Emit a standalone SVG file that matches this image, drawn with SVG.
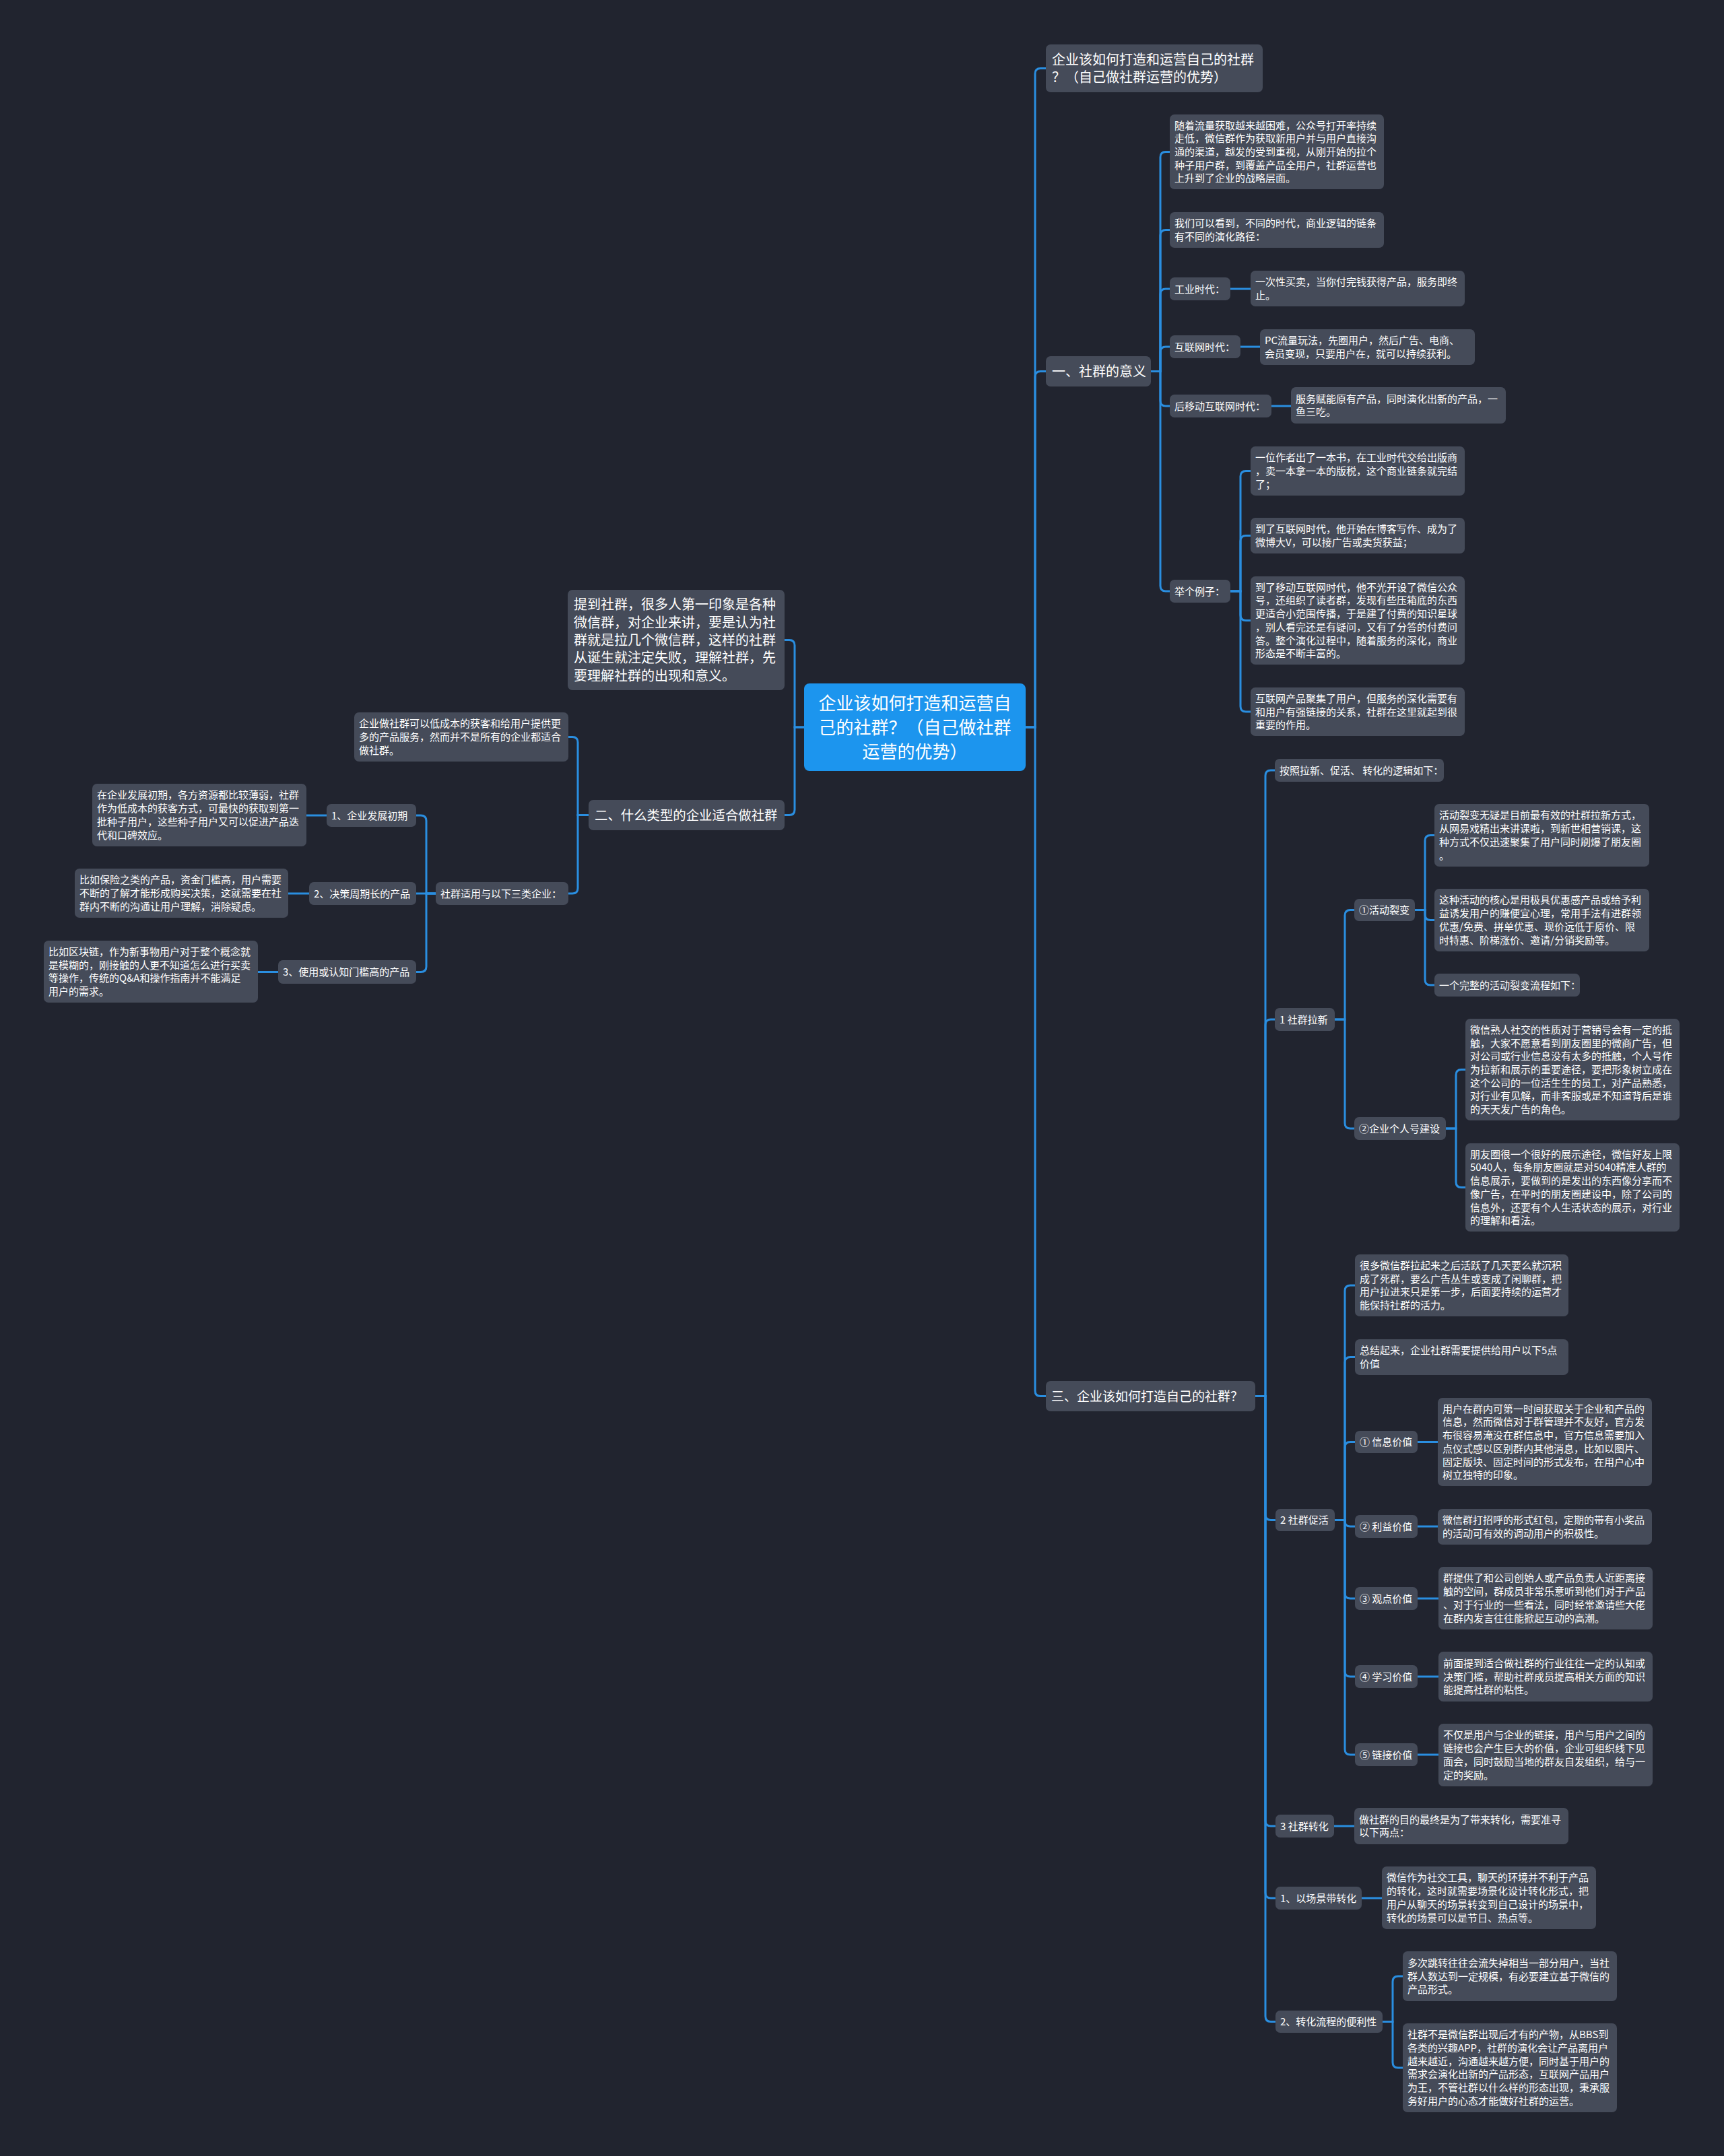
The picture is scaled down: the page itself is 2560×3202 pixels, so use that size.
<svg xmlns="http://www.w3.org/2000/svg" width="2560" height="3202" viewBox="0 0 2560 3202">
<style>
.bg{fill:#21242f}
.n{fill:#454b59}
.r{fill:#1c95ee}
.c{fill:none;stroke:#2a8ee0;stroke-width:3;stroke-linecap:round}
text{font-family:"Noto Sans CJK SC","Microsoft YaHei",sans-serif;fill:#ffffff}
.s{font-size:15px}
.m{font-size:20px}
.b{font-size:26px}
</style>
<rect class="bg" x="0" y="0" width="2560" height="3202"/>
<g id="connectors">
<path class="c" d="M1523 1080 H1537 V109.5 Q1537 101.5 1545 101.5 H1553"/>
<path class="c" d="M1523 1080 H1537 V559.5 Q1537 551.5 1545 551.5 H1553"/>
<path class="c" d="M1523 1080 H1537 V2065.5 Q1537 2073.5 1545 2073.5 H1553"/>
<path class="c" d="M1194 1080 H1180 V958.5 Q1180 950.5 1172 950.5 H1165"/>
<path class="c" d="M1194 1080 H1180 V1202.5 Q1180 1210.5 1172 1210.5 H1165"/>
<path class="c" d="M874 1210.5 H858 V1102.5 Q858 1094.5 850 1094.5 H844"/>
<path class="c" d="M874 1210.5 H858 V1319 Q858 1327 850 1327 H844"/>
<path class="c" d="M647 1327 H633 V1219 Q633 1211 625 1211 H618"/>
<path class="c" d="M647 1327 H618"/>
<path class="c" d="M647 1327 H633 V1435.5 Q633 1443.5 625 1443.5 H618"/>
<path class="c" d="M485 1211 H455"/>
<path class="c" d="M459 1327 H428"/>
<path class="c" d="M413 1443.5 H383"/>
<path class="c" d="M1709 551.5 H1723 V233.5 Q1723 225.5 1731 225.5 H1737"/>
<path class="c" d="M1709 551.5 H1723 V349.5 Q1723 341.5 1731 341.5 H1737"/>
<path class="c" d="M1709 551.5 H1723 V437 Q1723 429 1731 429 H1737"/>
<path class="c" d="M1709 551.5 H1723 V523 Q1723 515 1731 515 H1737"/>
<path class="c" d="M1709 551.5 H1723 V595 Q1723 603 1731 603 H1737"/>
<path class="c" d="M1709 551.5 H1723 V870 Q1723 878 1731 878 H1737"/>
<path class="c" d="M1827 429 H1857"/>
<path class="c" d="M1842 515 H1871"/>
<path class="c" d="M1888 603 H1917"/>
<path class="c" d="M1827 878 H1842 V707.5 Q1842 699.5 1850 699.5 H1857"/>
<path class="c" d="M1827 878 H1842 V803.5 Q1842 795.5 1850 795.5 H1857"/>
<path class="c" d="M1827 878 H1842 V913.5 Q1842 921.5 1850 921.5 H1857"/>
<path class="c" d="M1827 878 H1842 V1049 Q1842 1057 1850 1057 H1857"/>
<path class="c" d="M1864 2073.5 H1879 V1152 Q1879 1144 1887 1144 H1893"/>
<path class="c" d="M1864 2073.5 H1879 V1522 Q1879 1514 1887 1514 H1893"/>
<path class="c" d="M1864 2073.5 H1879 V2249.5 Q1879 2257.5 1887 2257.5 H1893"/>
<path class="c" d="M1864 2073.5 H1879 V2704 Q1879 2712 1887 2712 H1893"/>
<path class="c" d="M1864 2073.5 H1879 V2811 Q1879 2819 1887 2819 H1893"/>
<path class="c" d="M1864 2073.5 H1879 V2994.5 Q1879 3002.5 1887 3002.5 H1893"/>
<path class="c" d="M1982 1514 H1997 V1359.5 Q1997 1351.5 2005 1351.5 H2011"/>
<path class="c" d="M1982 1514 H1997 V1668 Q1997 1676 2005 1676 H2011"/>
<path class="c" d="M2101 1351.5 H2116 V1248.5 Q2116 1240.5 2124 1240.5 H2130"/>
<path class="c" d="M2101 1351.5 H2116 V1358.5 Q2116 1366.5 2124 1366.5 H2130"/>
<path class="c" d="M2101 1351.5 H2116 V1455 Q2116 1463 2124 1463 H2130"/>
<path class="c" d="M2147 1676 H2162 V1596.5 Q2162 1588.5 2170 1588.5 H2176"/>
<path class="c" d="M2147 1676 H2162 V1755.5 Q2162 1763.5 2170 1763.5 H2176"/>
<path class="c" d="M1982 2257.5 H1997 V1917 Q1997 1909 2005 1909 H2012"/>
<path class="c" d="M1982 2257.5 H1997 V2023.5 Q1997 2015.5 2005 2015.5 H2012"/>
<path class="c" d="M1982 2257.5 H1997 V2149.5 Q1997 2141.5 2005 2141.5 H2012"/>
<path class="c" d="M1982 2257.5 H1997 V2259 Q1997 2267 2005 2267 H2012"/>
<path class="c" d="M1982 2257.5 H1997 V2366 Q1997 2374 2005 2374 H2012"/>
<path class="c" d="M1982 2257.5 H1997 V2482 Q1997 2490 2005 2490 H2012"/>
<path class="c" d="M1982 2257.5 H1997 V2598 Q1997 2606 2005 2606 H2012"/>
<path class="c" d="M2105 2141.5 H2135"/>
<path class="c" d="M2105 2267 H2135"/>
<path class="c" d="M2105 2374 H2136"/>
<path class="c" d="M2105 2490 H2136"/>
<path class="c" d="M2105 2606 H2136"/>
<path class="c" d="M1981 2712 H2011"/>
<path class="c" d="M2022 2819 H2052"/>
<path class="c" d="M2053 3002.5 H2068 V2943 Q2068 2935 2076 2935 H2083"/>
<path class="c" d="M2053 3002.5 H2068 V3063 Q2068 3071 2076 3071 H2083"/>
</g>

<g id="root">
<rect class="r" x="1194" y="1015" width="329" height="130" rx="8"/>
<text class="b" text-anchor="middle" x="1358.5" y="1053.6"><tspan x="1358.5">企业该如何打造和运营自</tspan><tspan x="1358.5" dy="36">己的社群？（自己做社群</tspan><tspan x="1358.5" dy="36">运营的优势）</tspan></text>
</g>

<g id="n_intro">
<rect class="n" x="843" y="876" width="322" height="149" rx="7"/>
<text class="m" x="852" y="905.1"><tspan x="852">提到社群，很多人第一印象是各种</tspan><tspan x="852" dy="26.4">微信群，对企业来讲，要是认为社</tspan><tspan x="852" dy="26.4">群就是拉几个微信群，这样的社群</tspan><tspan x="852" dy="26.4">从诞生就注定失败，理解社群，先</tspan><tspan x="852" dy="26.4">要理解社群的出现和意义。</tspan></text>
</g>

<g id="n_2">
<rect class="n" x="874" y="1188" width="291" height="45" rx="7"/>
<text class="m" x="883" y="1217.9" style="font-size:19.4px">二、什么类型的企业适合做社群</text>
</g>

<g id="n_2a">
<rect class="n" x="526" y="1058" width="318" height="73" rx="7"/>
<text class="s" x="533" y="1080.3"><tspan x="533">企业做社群可以低成本的获客和给用户提供更</tspan><tspan x="533" dy="19.7">多的产品服务，然而并不是所有的企业都适合</tspan><tspan x="533" dy="19.7">做社群。</tspan></text>
</g>

<g id="n_2b">
<rect class="n" x="647" y="1310" width="197" height="34" rx="7"/>
<text class="s" x="654" y="1332.5">社群适用与以下三类企业：</text>
</g>

<g id="n_2b1">
<rect class="n" x="485" y="1194" width="133" height="34" rx="7"/>
<text class="s" x="492" y="1216.5">1、企业发展初期</text>
</g>
<g id="n_2b1t">
<rect class="n" x="137" y="1164" width="318" height="93" rx="7"/>
<text class="s" x="144" y="1186.45"><tspan x="144">在企业发展初期，各方资源都比较薄弱，社群</tspan><tspan x="144" dy="19.7">作为低成本的获客方式，可最快的获取到第一</tspan><tspan x="144" dy="19.7">批种子用户，这些种子用户又可以促进产品迭</tspan><tspan x="144" dy="19.7">代和口碑效应。</tspan></text>
</g>

<g id="n_2b2">
<rect class="n" x="459" y="1310" width="159" height="34" rx="7"/>
<text class="s" x="466" y="1332.5">2、决策周期长的产品</text>
</g>
<g id="n_2b2t">
<rect class="n" x="111" y="1290" width="317" height="73" rx="7"/>
<text class="s" x="118" y="1312.3"><tspan x="118">比如保险之类的产品，资金门槛高，用户需要</tspan><tspan x="118" dy="19.7">不断的了解才能形成购买决策，这就需要在社</tspan><tspan x="118" dy="19.7">群内不断的沟通让用户理解，消除疑虑。</tspan></text>
</g>

<g id="n_2b3">
<rect class="n" x="413" y="1426" width="205" height="35" rx="7"/>
<text class="s" x="420" y="1449">3、使用或认知门槛高的产品</text>
</g>
<g id="n_2b3t">
<rect class="n" x="65" y="1397" width="318" height="92" rx="7"/>
<text class="s" x="72" y="1418.95"><tspan x="72">比如区块链，作为新事物用户对于整个概念就</tspan><tspan x="72" dy="19.7">是模糊的，刚接触的人更不知道怎么进行买卖</tspan><tspan x="72" dy="19.7">等操作，传统的Q&amp;A和操作指南并不能满足</tspan><tspan x="72" dy="19.7">用户的需求。</tspan></text>
</g>

<g id="n_title">
<rect class="n" x="1553" y="66" width="322" height="71" rx="7"/>
<text class="m" x="1562" y="95.7"><tspan x="1562">企业该如何打造和运营自己的社群</tspan><tspan x="1562" dy="26.4">？（自己做社群运营的优势）</tspan></text>
</g>

<g id="n_1">
<rect class="n" x="1553" y="529" width="156" height="45" rx="7"/>
<text class="m" x="1562" y="558.9">一、社群的意义</text>
</g>
<g id="n_1a">
<rect class="n" x="1737" y="170" width="318" height="111" rx="7"/>
<text class="s" x="1744" y="191.6"><tspan x="1744">随着流量获取越来越困难，公众号打开率持续</tspan><tspan x="1744" dy="19.7">走低，微信群作为获取新用户并与用户直接沟</tspan><tspan x="1744" dy="19.7">通的渠道，越发的受到重视，从刚开始的拉个</tspan><tspan x="1744" dy="19.7">种子用户群，到覆盖产品全用户，社群运营也</tspan><tspan x="1744" dy="19.7">上升到了企业的战略层面。</tspan></text>
</g>
<g id="n_1b">
<rect class="n" x="1737" y="315" width="318" height="53" rx="7"/>
<text class="s" x="1744" y="337.15"><tspan x="1744">我们可以看到，不同的时代，商业逻辑的链条</tspan><tspan x="1744" dy="19.7">有不同的演化路径：</tspan></text>
</g>
<g id="n_1c">
<rect class="n" x="1737" y="412" width="90" height="34" rx="7"/>
<text class="s" x="1744" y="434.5">工业时代：</text>
</g>
<g id="n_1ct">
<rect class="n" x="1857" y="402" width="318" height="53" rx="7"/>
<text class="s" x="1864" y="424.15"><tspan x="1864">一次性买卖，当你付完钱获得产品，服务即终</tspan><tspan x="1864" dy="19.7">止。</tspan></text>
</g>
<g id="n_1d">
<rect class="n" x="1737" y="498" width="105" height="34" rx="7"/>
<text class="s" x="1744" y="520.5">互联网时代：</text>
</g>
<g id="n_1dt">
<rect class="n" x="1871" y="489" width="319" height="53" rx="7"/>
<text class="s" x="1878" y="511.15"><tspan x="1878">PC流量玩法，先圈用户，然后广告、电商、</tspan><tspan x="1878" dy="19.7">会员变现，只要用户在，就可以持续获利。</tspan></text>
</g>
<g id="n_1e">
<rect class="n" x="1737" y="586" width="151" height="34" rx="7"/>
<text class="s" x="1744" y="608.5">后移动互联网时代：</text>
</g>
<g id="n_1et">
<rect class="n" x="1917" y="575" width="319" height="54" rx="7"/>
<text class="s" x="1924" y="597.65"><tspan x="1924">服务赋能原有产品，同时演化出新的产品，一</tspan><tspan x="1924" dy="19.7">鱼三吃。</tspan></text>
</g>
<g id="n_1f">
<rect class="n" x="1737" y="861" width="90" height="34" rx="7"/>
<text class="s" x="1744" y="883.5">举个例子：</text>
</g>
<g id="n_1f1">
<rect class="n" x="1857" y="663" width="318" height="73" rx="7"/>
<text class="s" x="1864" y="685.3"><tspan x="1864">一位作者出了一本书，在工业时代交给出版商</tspan><tspan x="1864" dy="19.7">，卖一本拿一本的版税，这个商业链条就完结</tspan><tspan x="1864" dy="19.7">了；</tspan></text>
</g>
<g id="n_1f2">
<rect class="n" x="1857" y="769" width="318" height="53" rx="7"/>
<text class="s" x="1864" y="791.15"><tspan x="1864">到了互联网时代，他开始在博客写作、成为了</tspan><tspan x="1864" dy="19.7">微博大V，可以接广告或卖货获益；</tspan></text>
</g>
<g id="n_1f3">
<rect class="n" x="1857" y="856" width="318" height="131" rx="7"/>
<text class="s" x="1864" y="877.75"><tspan x="1864">到了移动互联网时代，他不光开设了微信公众</tspan><tspan x="1864" dy="19.7">号，还组织了读者群，发现有些压箱底的东西</tspan><tspan x="1864" dy="19.7">更适合小范围传播，于是建了付费的知识星球</tspan><tspan x="1864" dy="19.7">，别人看完还是有疑问，又有了分答的付费问</tspan><tspan x="1864" dy="19.7">答。整个演化过程中，随着服务的深化，商业</tspan><tspan x="1864" dy="19.7">形态是不断丰富的。</tspan></text>
</g>
<g id="n_1f4">
<rect class="n" x="1857" y="1021" width="318" height="72" rx="7"/>
<text class="s" x="1864" y="1042.8"><tspan x="1864">互联网产品聚集了用户，但服务的深化需要有</tspan><tspan x="1864" dy="19.7">和用户有强链接的关系，社群在这里就起到很</tspan><tspan x="1864" dy="19.7">重要的作用。</tspan></text>
</g>

<g id="n_3">
<rect class="n" x="1553" y="2051" width="311" height="45" rx="7"/>
<text class="m" x="1561" y="2080.9" style="font-size:19px">三、企业该如何打造自己的社群？</text>
</g>
<g id="n_3a">
<rect class="n" x="1893" y="1127" width="251" height="34" rx="7"/>
<text class="s" x="1900" y="1149.5">按照拉新、促活、 转化的逻辑如下：</text>
</g>
<g id="n_3b">
<rect class="n" x="1893" y="1497" width="89" height="34" rx="7"/>
<text class="s" x="1900" y="1519.5">1 社群拉新</text>
</g>
<g id="n_3b1">
<rect class="n" x="2011" y="1335" width="90" height="33" rx="7"/>
<text class="s" x="2018" y="1357">①活动裂变</text>
</g>
<g id="n_3b1a">
<rect class="n" x="2130" y="1194" width="319" height="93" rx="7"/>
<text class="s" x="2137" y="1216.45"><tspan x="2137">活动裂变无疑是目前最有效的社群拉新方式，</tspan><tspan x="2137" dy="19.7">从网易戏精出来讲课啦，到新世相营销课，这</tspan><tspan x="2137" dy="19.7">种方式不仅迅速聚集了用户同时刷爆了朋友圈</tspan><tspan x="2137" dy="19.7">。</tspan></text>
</g>
<g id="n_3b1b">
<rect class="n" x="2130" y="1320" width="319" height="93" rx="7"/>
<text class="s" x="2137" y="1342.45"><tspan x="2137">这种活动的核心是用极具优惠感产品或给予利</tspan><tspan x="2137" dy="19.7">益诱发用户的赚便宜心理，常用手法有进群领</tspan><tspan x="2137" dy="19.7">优惠/免费、拼单优惠、现价远低于原价、限</tspan><tspan x="2137" dy="19.7">时特惠、阶梯涨价、邀请/分销奖励等。</tspan></text>
</g>
<g id="n_3b1c">
<rect class="n" x="2130" y="1446" width="216" height="34" rx="7"/>
<text class="s" x="2137" y="1468.5">一个完整的活动裂变流程如下：</text>
</g>
<g id="n_3b2">
<rect class="n" x="2011" y="1659" width="136" height="34" rx="7"/>
<text class="s" x="2018" y="1681.5">②企业个人号建设</text>
</g>
<g id="n_3b2a">
<rect class="n" x="2176" y="1513" width="318" height="151" rx="7"/>
<text class="s" x="2183" y="1534.9"><tspan x="2183">微信熟人社交的性质对于营销号会有一定的抵</tspan><tspan x="2183" dy="19.7">触，大家不愿意看到朋友圈里的微商广告，但</tspan><tspan x="2183" dy="19.7">对公司或行业信息没有太多的抵触，个人号作</tspan><tspan x="2183" dy="19.7">为拉新和展示的重要途径，要把形象树立成在</tspan><tspan x="2183" dy="19.7">这个公司的一位活生生的员工，对产品熟悉，</tspan><tspan x="2183" dy="19.7">对行业有见解，而非客服或是不知道背后是谁</tspan><tspan x="2183" dy="19.7">的天天发广告的角色。</tspan></text>
</g>
<g id="n_3b2b">
<rect class="n" x="2176" y="1698" width="318" height="131" rx="7"/>
<text class="s" x="2183" y="1719.75"><tspan x="2183">朋友圈很一个很好的展示途径，微信好友上限</tspan><tspan x="2183" dy="19.7">5040人，每条朋友圈就是对5040精准人群的</tspan><tspan x="2183" dy="19.7">信息展示，要做到的是发出的东西像分享而不</tspan><tspan x="2183" dy="19.7">像广告，在平时的朋友圈建设中，除了公司的</tspan><tspan x="2183" dy="19.7">信息外，还要有个人生活状态的展示，对行业</tspan><tspan x="2183" dy="19.7">的理解和看法。</tspan></text>
</g>

<g id="n_3c">
<rect class="n" x="1894" y="2241" width="88" height="33" rx="7"/>
<text class="s" x="1901" y="2263">2 社群促活</text>
</g>
<g id="n_3c0">
<rect class="n" x="2012" y="1863" width="317" height="92" rx="7"/>
<text class="s" x="2019" y="1884.95"><tspan x="2019">很多微信群拉起来之后活跃了几天要么就沉积</tspan><tspan x="2019" dy="19.7">成了死群，要么广告丛生或变成了闲聊群，把</tspan><tspan x="2019" dy="19.7">用户拉进来只是第一步，后面要持续的运营才</tspan><tspan x="2019" dy="19.7">能保持社群的活力。</tspan></text>
</g>
<g id="n_3c00">
<rect class="n" x="2012" y="1989" width="317" height="53" rx="7"/>
<text class="s" x="2019" y="2011.15"><tspan x="2019">总结起来，企业社群需要提供给用户以下5点</tspan><tspan x="2019" dy="19.7">价值</tspan></text>
</g>
<g id="n_3c1">
<rect class="n" x="2012" y="2125" width="93" height="33" rx="7"/>
<text class="s" x="2019" y="2147">① 信息价值</text>
</g>
<g id="n_3c1t">
<rect class="n" x="2135" y="2076" width="318" height="131" rx="7"/>
<text class="s" x="2142" y="2097.75"><tspan x="2142">用户在群内可第一时间获取关于企业和产品的</tspan><tspan x="2142" dy="19.7">信息，然而微信对于群管理并不友好，官方发</tspan><tspan x="2142" dy="19.7">布很容易淹没在群信息中，官方信息需要加入</tspan><tspan x="2142" dy="19.7">点仪式感以区别群内其他消息，比如以图片、</tspan><tspan x="2142" dy="19.7">固定版块、固定时间的形式发布，在用户心中</tspan><tspan x="2142" dy="19.7">树立独特的印象。</tspan></text>
</g>
<g id="n_3c2">
<rect class="n" x="2012" y="2250" width="93" height="34" rx="7"/>
<text class="s" x="2019" y="2272.5">② 利益价值</text>
</g>
<g id="n_3c2t">
<rect class="n" x="2135" y="2241" width="318" height="53" rx="7"/>
<text class="s" x="2142" y="2263.15"><tspan x="2142">微信群打招呼的形式红包，定期的带有小奖品</tspan><tspan x="2142" dy="19.7">的活动可有效的调动用户的积极性。</tspan></text>
</g>
<g id="n_3c3">
<rect class="n" x="2012" y="2357" width="93" height="34" rx="7"/>
<text class="s" x="2019" y="2379.5">③ 观点价值</text>
</g>
<g id="n_3c3t">
<rect class="n" x="2136" y="2327" width="318" height="93" rx="7"/>
<text class="s" x="2143" y="2349.45"><tspan x="2143">群提供了和公司创始人或产品负责人近距离接</tspan><tspan x="2143" dy="19.7">触的空间，群成员非常乐意听到他们对于产品</tspan><tspan x="2143" dy="19.7">、对于行业的一些看法，同时经常邀请些大佬</tspan><tspan x="2143" dy="19.7">在群内发言往往能掀起互动的高潮。</tspan></text>
</g>
<g id="n_3c4">
<rect class="n" x="2012" y="2473" width="93" height="34" rx="7"/>
<text class="s" x="2019" y="2495.5">④ 学习价值</text>
</g>
<g id="n_3c4t">
<rect class="n" x="2136" y="2453" width="318" height="74" rx="7"/>
<text class="s" x="2143" y="2475.8"><tspan x="2143">前面提到适合做社群的行业往往一定的认知或</tspan><tspan x="2143" dy="19.7">决策门槛，帮助社群成员提高相关方面的知识</tspan><tspan x="2143" dy="19.7">能提高社群的粘性。</tspan></text>
</g>
<g id="n_3c5">
<rect class="n" x="2012" y="2589" width="93" height="34" rx="7"/>
<text class="s" x="2019" y="2611.5">⑤ 链接价值</text>
</g>
<g id="n_3c5t">
<rect class="n" x="2136" y="2560" width="318" height="93" rx="7"/>
<text class="s" x="2143" y="2582.45"><tspan x="2143">不仅是用户与企业的链接，用户与用户之间的</tspan><tspan x="2143" dy="19.7">链接也会产生巨大的价值，企业可组织线下见</tspan><tspan x="2143" dy="19.7">面会，同时鼓励当地的群友自发组织，给与一</tspan><tspan x="2143" dy="19.7">定的奖励。</tspan></text>
</g>

<g id="n_3d">
<rect class="n" x="1894" y="2695" width="87" height="34" rx="7"/>
<text class="s" x="1901" y="2717.5">3 社群转化</text>
</g>
<g id="n_3dt">
<rect class="n" x="2011" y="2685" width="318" height="54" rx="7"/>
<text class="s" x="2018" y="2707.65"><tspan x="2018">做社群的目的最终是为了带来转化，需要准寻</tspan><tspan x="2018" dy="19.7">以下两点：</tspan></text>
</g>
<g id="n_3e">
<rect class="n" x="1894" y="2802" width="128" height="34" rx="7"/>
<text class="s" x="1901" y="2824.5">1、以场景带转化</text>
</g>
<g id="n_3et">
<rect class="n" x="2052" y="2772" width="318" height="93" rx="7"/>
<text class="s" x="2059" y="2794.45"><tspan x="2059">微信作为社交工具，聊天的环境并不利于产品</tspan><tspan x="2059" dy="19.7">的转化，这时就需要场景化设计转化形式，把</tspan><tspan x="2059" dy="19.7">用户从聊天的场景转变到自己设计的场景中，</tspan><tspan x="2059" dy="19.7">转化的场景可以是节日、热点等。</tspan></text>
</g>
<g id="n_3f">
<rect class="n" x="1894" y="2986" width="159" height="33" rx="7"/>
<text class="s" x="1901" y="3008">2、转化流程的便利性</text>
</g>
<g id="n_3f1">
<rect class="n" x="2083" y="2898" width="318" height="74" rx="7"/>
<text class="s" x="2090" y="2920.8"><tspan x="2090">多次跳转往往会流失掉相当一部分用户，当社</tspan><tspan x="2090" dy="19.7">群人数达到一定规模，有必要建立基于微信的</tspan><tspan x="2090" dy="19.7">产品形式。</tspan></text>
</g>
<g id="n_3f2">
<rect class="n" x="2083" y="3005" width="318" height="132" rx="7"/>
<text class="s" x="2090" y="3027.25"><tspan x="2090">社群不是微信群出现后才有的产物，从BBS到</tspan><tspan x="2090" dy="19.7">各类的兴趣APP，社群的演化会让产品离用户</tspan><tspan x="2090" dy="19.7">越来越近，沟通越来越方便，同时基于用户的</tspan><tspan x="2090" dy="19.7">需求会演化出新的产品形态，互联网产品用户</tspan><tspan x="2090" dy="19.7">为王，不管社群以什么样的形态出现，秉承服</tspan><tspan x="2090" dy="19.7">务好用户的心态才能做好社群的运营。</tspan></text>
</g>
</svg>
